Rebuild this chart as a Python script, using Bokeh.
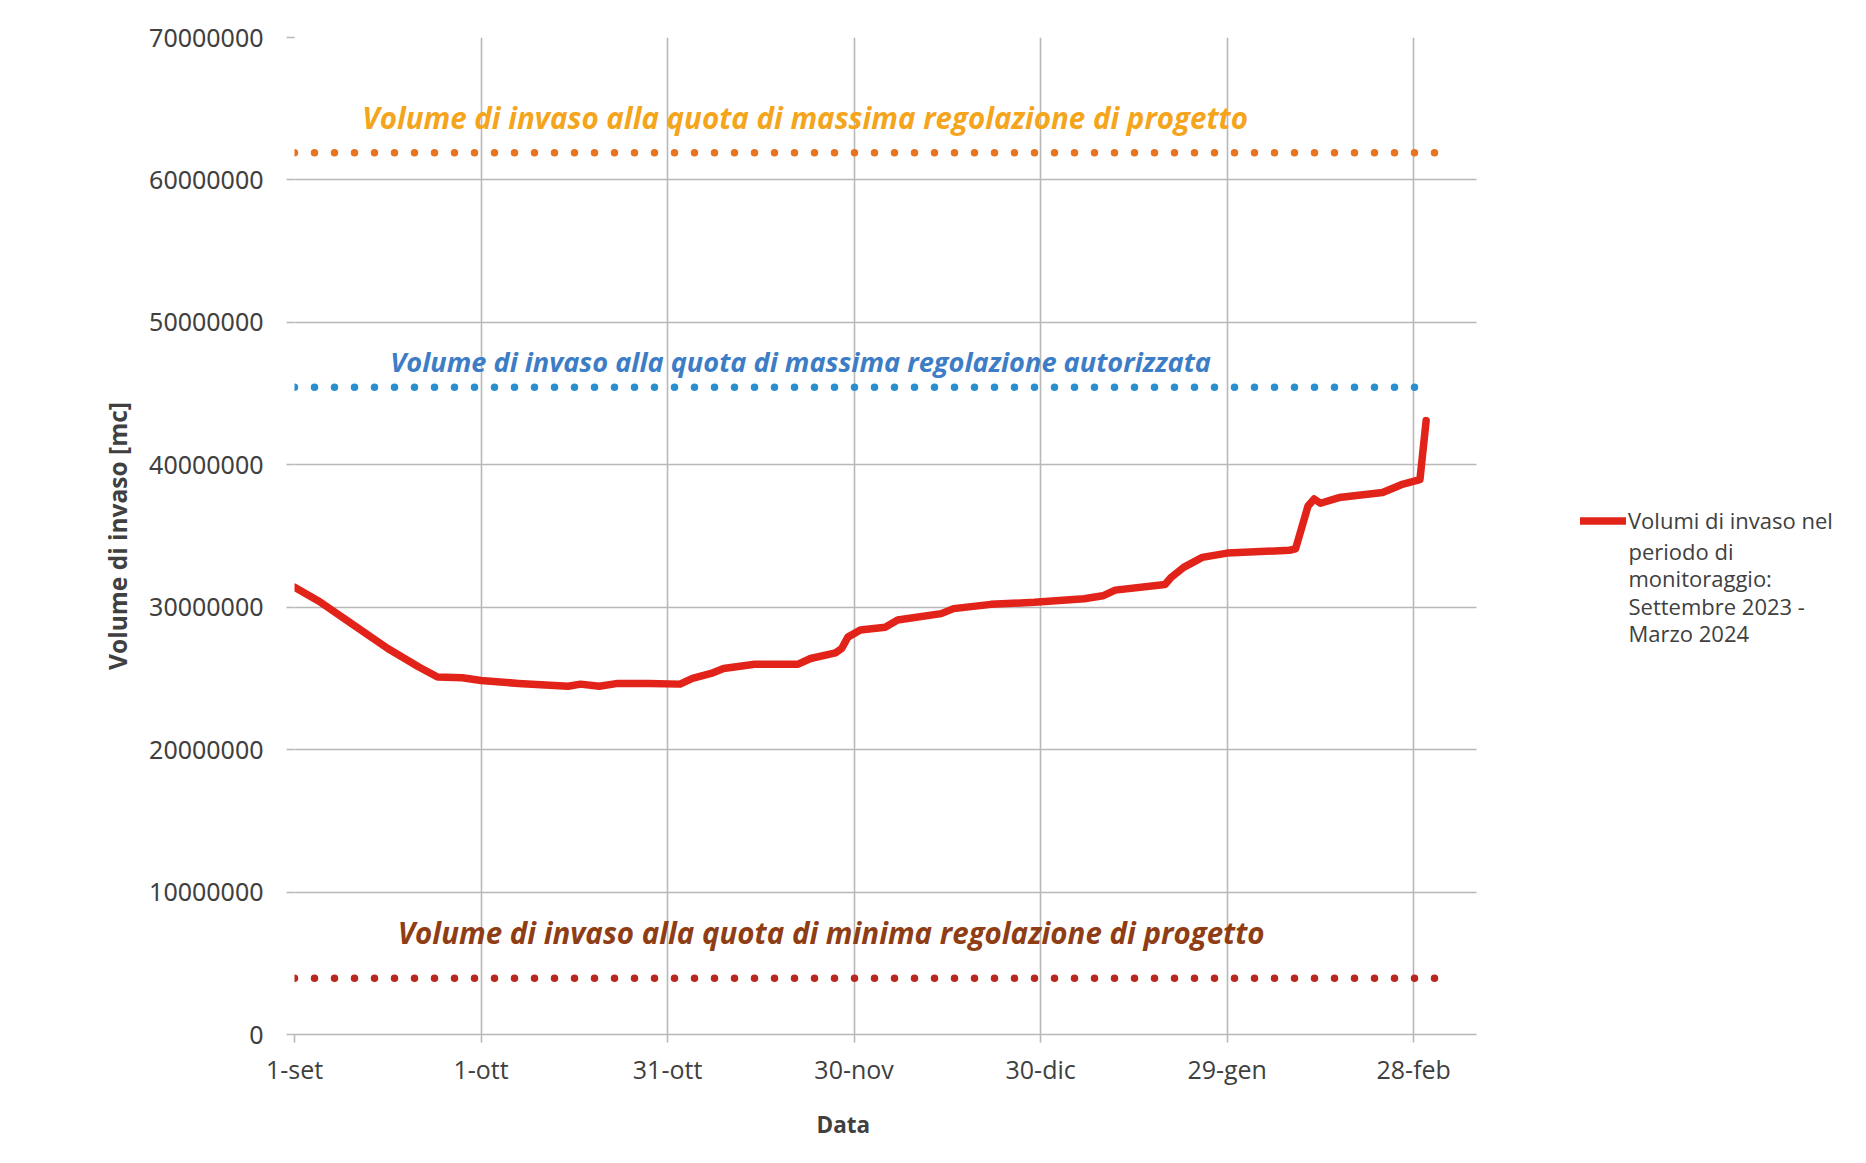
import pandas as pd
from bokeh.plotting import figure
from bokeh.models import (Range1d, FixedTicker, Label, Legend, LegendItem,
                          ColumnDataSource, Title)
from bokeh.embed import file_html
from bokeh.resources import INLINE

# ---------------- data ----------------
START = "2023-09-01"
END = "2024-03-09"   # right end of the chart's date axis

dates = [
    "2023-09-01", "2023-09-05", "2023-09-10", "2023-09-16", "2023-09-21", "2023-09-24",
    "2023-09-28", "2023-10-01", "2023-10-07", "2023-10-15", "2023-10-17", "2023-10-20",
    "2023-10-23", "2023-10-28", "2023-11-02", "2023-11-04", "2023-11-07", "2023-11-09",
    "2023-11-14", "2023-11-21", "2023-11-23", "2023-11-27", "2023-11-28", "2023-11-29",
    "2023-12-01", "2023-12-05", "2023-12-07", "2023-12-14", "2023-12-16", "2023-12-22",
    "2023-12-29", "2024-01-06", "2024-01-09", "2024-01-11", "2024-01-19", "2024-01-20",
    "2024-01-22", "2024-01-25", "2024-01-29", "2024-02-08", "2024-02-09", "2024-02-11",
    "2024-02-12", "2024-02-13", "2024-02-16", "2024-02-23", "2024-02-26", "2024-02-29",
    "2024-03-01",
]
volumes = [
    31400000, 30400000, 28900000, 27100000, 25800000, 25100000,
    25050000, 24850000, 24650000, 24450000, 24600000, 24450000,
    24650000, 24650000, 24600000, 25000000, 25350000, 25700000,
    26000000, 26000000, 26400000, 26800000, 27100000, 27900000,
    28400000, 28600000, 29100000, 29550000, 29900000, 30200000,
    30350000, 30600000, 30800000, 31200000, 31600000, 32100000,
    32800000, 33500000, 33800000, 34000000, 34100000, 37100000,
    37600000, 37300000, 37700000, 38050000, 38600000, 38950000,
    43100000,
]

max_prog_dates = ["2023-09-01", "2024-03-04"]
max_prog_vol = [61900000, 61900000]
max_aut_dates = ["2023-09-01", "2024-03-01"]
max_aut_vol = [45450000, 45450000]
min_prog_dates = ["2023-09-01", "2024-03-04"]
min_prog_vol = [3950000, 3950000]

x_tick_dates = ["2023-09-01", "2023-10-01", "2023-10-31", "2023-11-30",
                "2023-12-30", "2024-01-29", "2024-02-28"]
x_tick_labels = ["1-set", "1-ott", "31-ott", "30-nov", "30-dic", "29-gen", "28-feb"]
y_ticks = [0, 10000000, 20000000, 30000000, 40000000, 50000000, 60000000, 70000000]
y_tick_labels = ["0", "10000000", "20000000", "30000000", "40000000",
                 "50000000", "60000000", "70000000"]

label_max_prog = "Volume di invaso alla quota di massima regolazione di progetto"
label_max_aut = "Volume di invaso alla quota  di massima regolazione autorizzata"
label_min_prog = "Volume di invaso alla quota di minima regolazione di progetto"
legend_lines = ["Volumi di invaso nel", "periodo di", "monitoraggio:",
                "Settembre 2023 -", "Marzo 2024"]
x_title = "Data"
y_title = "Volume di invaso [mc]"

# ---------------- helpers ----------------
t0 = pd.Timestamp(START)
def days(ds):
    return [(pd.Timestamp(d) - t0).days for d in ds]

# ---------------- layout ----------------
W, H = 1858, 1162
LEFT, TOP, BOTTOM_Y = 294, 37, 1034          # page px of plot area
PLOT_W = 1182                                # px width of the date axis
RIGHT_PAD = 6
axis_end = days([END])[0] + 0.1
frame_w = W - LEFT - RIGHT_PAD
x_end = axis_end * frame_w / PLOT_W          # frame extends right to host the legend

p = figure(width=W, height=H, output_backend="svg", toolbar_location=None,
           x_range=Range1d(0, x_end), y_range=Range1d(0, 70000000),
           min_border_left=LEFT, min_border_top=TOP, min_border_bottom=H - BOTTOM_Y,
           min_border_right=RIGHT_PAD)
p.outline_line_color = None
p.background_fill_color = "white"
p.border_fill_color = "white"

grid_col = "#B8B8B8"
xt = days(x_tick_dates)
p.xaxis.ticker = FixedTicker(ticks=xt)
p.xaxis.major_label_overrides = {t: l for t, l in zip(xt, x_tick_labels)}
p.xgrid.ticker = FixedTicker(ticks=xt)
p.xgrid.grid_line_color = grid_col
p.xgrid.grid_line_width = 1.6
p.yaxis.ticker = FixedTicker(ticks=y_ticks)
p.yaxis.major_label_overrides = {t: l for t, l in zip(y_ticks, y_tick_labels)}

yg = p.ygrid[0]
if "cross_bounds" in yg.properties():
    yg.ticker = FixedTicker(ticks=y_ticks)
    yg.grid_line_color = grid_col
    yg.grid_line_width = 1.6
    yg.cross_bounds = (0, axis_end)
else:
    yg.grid_line_color = None
    p.segment(x0=[0] * len(y_ticks), x1=[axis_end] * len(y_ticks), y0=y_ticks, y1=y_ticks,
              line_color=grid_col, line_width=1.6)

for ax in (p.xaxis[0], p.yaxis[0]):
    ax.axis_line_color = grid_col
    ax.axis_line_width = 1.6
    ax.major_tick_line_color = grid_col
    ax.major_tick_line_width = 1.6
    ax.major_tick_out = 8
    ax.major_tick_in = 0
    ax.minor_tick_line_color = None
    ax.major_label_text_color = "#404040"

p.xaxis.bounds = (0, axis_end)
p.yaxis.axis_line_color = None
p.xaxis.major_label_text_font = "Open Sans"
p.xaxis.major_label_text_font_size = "25px"
p.xaxis.major_label_standoff = 9
p.yaxis.major_label_text_font = "Noto Sans"
p.yaxis.major_label_text_font_size = "25px"
p.yaxis.major_label_standoff = 23

p.yaxis.axis_label = y_title
p.yaxis.axis_label_text_font = "Open Sans"
p.yaxis.axis_label_text_font_size = "24.5px"
p.yaxis.axis_label_text_font_style = "bold"
p.yaxis.axis_label_text_color = "#404040"
p.yaxis.axis_label_standoff = 12

# x axis title, placed like the reference (not centred on the widened frame)
p.add_layout(Title(text=x_title, align="left", offset=816 - LEFT, standoff=36,
                   text_font="Open Sans", text_font_size="22.5px",
                   text_font_style="bold", text_color="#404040"), "below")

# reference lines (dotted)
dot = dict(line_width=7.5, line_dash="0 20", line_cap="round")
p.line(days(max_prog_dates), max_prog_vol, line_color="#E8741F", **dot)
p.line(days(max_aut_dates), max_aut_vol, line_color="#2A8FCF", **dot)
p.line(days(min_prog_dates), min_prog_vol, line_color="#B8281F", **dot)

# main series
src = ColumnDataSource(dict(x=days(dates), y=volumes))
r_main = p.line("x", "y", source=src, line_color="#E2231A", line_width=7.5,
                line_join="round", line_cap="round")

# texts for reference levels
lab_common = dict(text_font="Open Sans", text_font_style="bold italic",
                  text_baseline="alphabetic", text_align="left")
p.add_layout(Label(x=10.9, y=64350000, text=label_max_prog, text_color="#F4A51C",
                   text_font_size="29.5px", **lab_common))
p.add_layout(Label(x=15.4, y=47250000, text=label_max_aut, text_color="#3D7DC6",
                   text_font_size="27.2px", **lab_common))
p.add_layout(Label(x=16.6, y=7150000, text=label_min_prog, text_color="#8E3D14",
                   text_font_size="29.5px", **lab_common))

# legend (sample + first line), remaining lines as a label below
legend = Legend(items=[LegendItem(label=legend_lines[0], renderers=[r_main])],
                location=(1580 - LEFT, BOTTOM_Y - 535), padding=0, margin=0, spacing=0,
                border_line_color=None, background_fill_alpha=0,
                glyph_width=46, glyph_height=27, label_standoff=2, label_height=27,
                label_text_font="Open Sans", label_text_font_size="22px",
                label_text_color="#404040")
p.add_layout(legend)
p.add_layout(Label(x=1628 - LEFT, y=BOTTOM_Y - 535.5, x_units="screen", y_units="screen",
                   text="\n".join(legend_lines[1:]), text_baseline="top",
                   text_align="left", text_line_height=0.91, text_font="Open Sans",
                   text_font_size="22px", text_color="#404040"))

open("out.html", "w").write(file_html(p, INLINE))
